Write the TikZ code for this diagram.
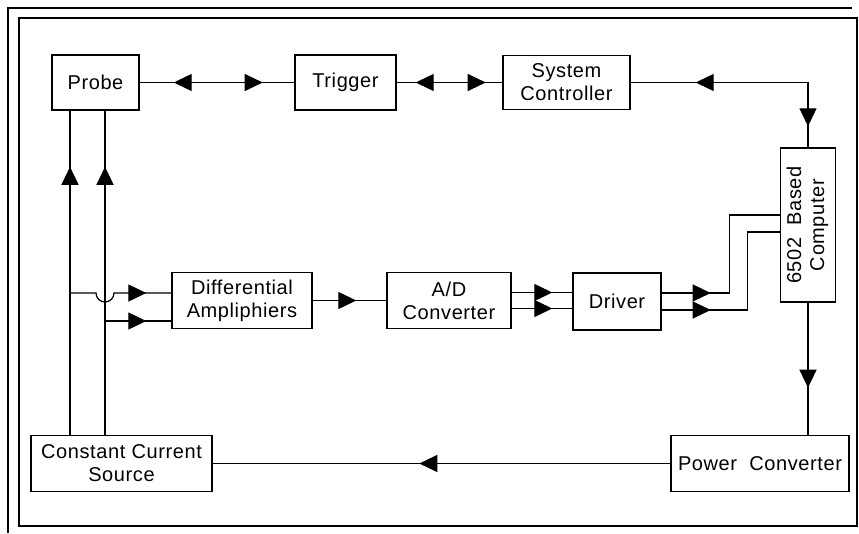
\documentclass[tikz,border=0pt]{standalone}
\usepackage{fontspec}
\setmainfont{Liberation Sans}[LetterSpace=3]
\usepackage{graphicx}
\usetikzlibrary{
arrows.meta,
calc,
decorations.markings,
}

\begin{document}
\begin{tikzpicture}[x=1pt, y=-1pt,
  font=\fontsize{20}{23}\selectfont,
  block/.style={draw, line width=1.4pt, align=center, inner sep=0pt},
  wire/.style={line width=1.2pt},
  fwd/.style={postaction={decorate, decoration={markings,
    mark=at position #1 with {\arrow{Triangle[length=18pt,width=17pt]}}}}},
  bwd/.style={postaction={decorate, decoration={markings,
    mark=at position #1 with {\arrowreversed{Triangle[length=18pt,width=17pt]}}}}}]
				\useasboundingbox (0,0) rectangle (859,533);
				% frame
				\draw[line width=1.1pt] (19,18) rectangle (857,526);
				\draw[line width=1.1pt] (8,533) -- (8,8) -- (852,8);
				% blocks
				\node[block, minimum width=87pt, minimum height=55pt] (probe) at (95.5,82.5) {Probe};
				\node[block, minimum width=101pt, minimum height=55pt] (trigger) at (345.5,82.5) {Trigger};
				\node[block, minimum width=127pt, minimum height=54pt] (syscon) at (566.5,82.5) {System\\Controller};
				\node[block, minimum width=55pt, minimum height=154pt] (comp) at (808,225)
					{\rotatebox{90}{\begin{tabular}{@{}c@{}}6502\ \ Based\\Computer\end{tabular}}};
				\node[block, minimum width=140pt, minimum height=56pt] (diff) at (242,300.5) {Differential\\Ampliphiers};
				\node[block, minimum width=124pt, minimum height=56pt] (adc) at (449,300.5) {A/D\\Converter};
				\node[block, minimum width=88pt, minimum height=57pt] (driver) at (617,301.5) {Driver};
				\node[block, minimum width=181pt, minimum height=56pt] (ccs) at (121.5,463.5) {Constant Current\\Source};
				\node[block, minimum width=178pt, minimum height=56pt] (pc) at (760,463.5) {Power\ \ Converter};
				\coordinate (tapA) at (70,293);
				\coordinate (tapB) at (105,321);
				% top row
				\draw[wire, bwd=34pt, fwd=123pt] (probe) -- (trigger);
				\draw[wire, bwd=19pt, fwd=89pt] (trigger) -- (syscon);
				\draw[wire, bwd=65pt, fwd=-21pt] (syscon.east) -| (comp.north);
				% current leads
				\draw[wire, fwd=268pt] ([xshift=-51.5pt]ccs.north) -- ([xshift=-25.5pt]probe.south);
				\draw[wire, fwd=268pt] ([xshift=-16.5pt]ccs.north) -- ([xshift=9.5pt]probe.south);
				% signal path
				\draw[wire, fwd=-25pt] (tapA) -- (96,293) arc[start angle=180, end angle=0, radius=9] -- (tapA -| diff.west);
				\draw[wire, fwd=-25pt] (tapB) -- (tapB -| diff.west);
				\draw[wire, fwd=-30pt] (diff) -- (adc);
				\draw[wire, fwd=-20pt] ([yshift=8pt]adc.east) -- ([yshift=8pt]adc.east -| driver.west);
				\draw[wire, fwd=-20pt] ([yshift=-8pt]adc.east) -- ([yshift=-8pt]adc.east -| driver.west);
				\draw[wire, fwd=49pt] ([yshift=8.5pt]driver.east) -| ([xshift=-50.5pt,yshift=10pt]comp.west) -- ([yshift=10pt]comp.west);
				\draw[wire, fwd=49pt] ([yshift=-8.5pt]driver.east) -| ([xshift=-32.5pt,yshift=-7pt]comp.west) -- ([yshift=-7pt]comp.west);
				% power
				\draw[wire, fwd=85pt] (comp.south) -- (comp.south |- pc.north);
				\draw[wire, fwd=251pt] (pc.west) -- (pc.west -| ccs.east);
\end{tikzpicture}
\end{document}
